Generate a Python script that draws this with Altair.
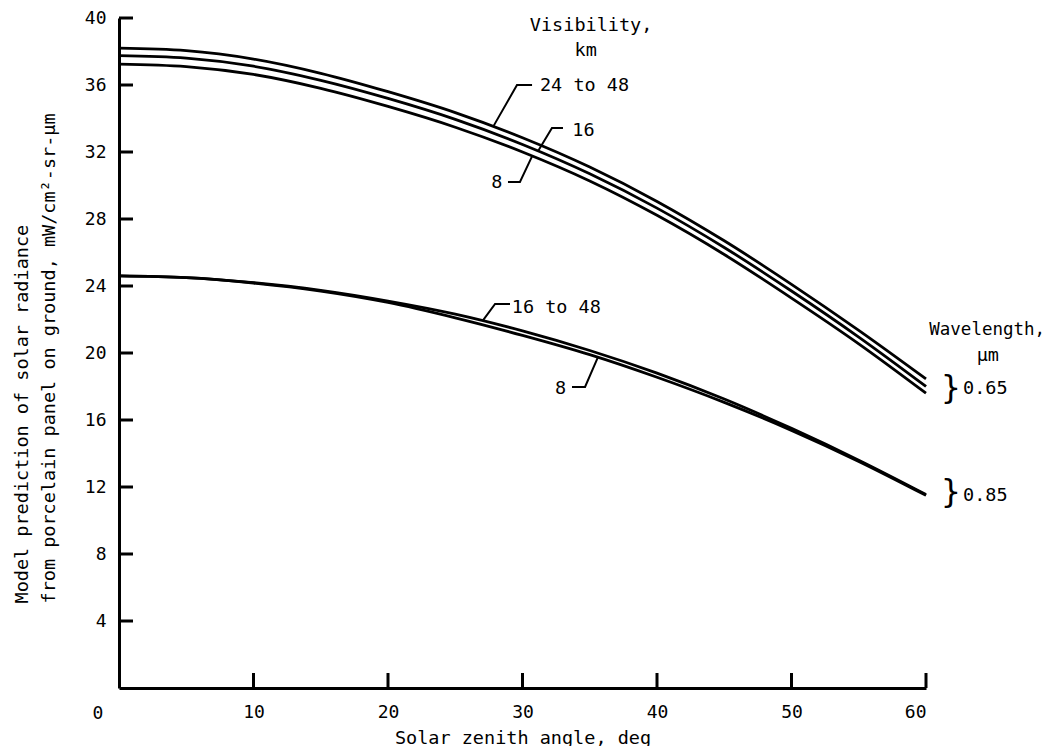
import altair as alt
import pandas as pd

# ---- data ----
angle = [0, 5, 10, 15, 20, 25, 30, 35, 40, 45, 50, 55, 60]
r065_vis24_48 = [38.2, 38.05, 37.55, 36.7, 35.6, 34.35, 32.85, 31.1, 29.05, 26.7, 24.1, 21.35, 18.45]
r065_vis16 = [37.75, 37.6, 37.12, 36.28, 35.2, 33.95, 32.45, 30.7, 28.65, 26.3, 23.7, 20.95, 18.0]
r065_vis8 = [37.25, 37.1, 36.63, 35.8, 34.72, 33.48, 32.0, 30.27, 28.22, 25.88, 23.28, 20.55, 17.6]
r085_vis16_48 = [24.6, 24.5, 24.2, 23.74, 23.1, 22.32, 21.32, 20.15, 18.8, 17.25, 15.5, 13.6, 11.55]
r085_vis8 = [24.6, 24.5, 24.18, 23.7, 23.02, 22.1, 21.05, 19.9, 18.55, 17.05, 15.38, 13.53, 11.5]

series_names = ["0.65 um, 24 to 48 km", "0.65 um, 16 km", "0.65 um, 8 km",
                "0.85 um, 16 to 48 km", "0.85 um, 8 km"]
series_vals = [r065_vis24_48, r065_vis16, r065_vis8, r085_vis16_48, r085_vis8]

x_ticks = [10, 20, 30, 40, 50, 60]
y_ticks = [4, 8, 12, 16, 20, 24, 28, 32, 36, 40]

# annotation texts (anchored in data units)
ann_center_text = ["Visibility,", "km", "\u00b5m"]
ann_center_x = [35.1, 34.7, 64.6]
ann_center_y = [39.6, 38.1, 19.9]

wave_text = ["Wavelength,"]
wave_x = [64.55]
wave_y = [21.4]

ann_left_text = ["24 to 48", "16", "16 to 48", "0.65", "0.85"]
ann_left_x = [31.3, 33.7, 29.2, 62.75, 62.75]
ann_left_y = [36.0, 33.3, 22.75, 17.9, 11.55]

ann_right_text = ["8", "8"]
ann_right_x = [28.5, 33.25]
ann_right_y = [30.2, 17.9]

brace_x = [61.85, 61.85]
brace_y = [17.9, 11.7]

leader_id = ["a", "a", "a", "b", "b", "b", "c", "c", "c", "d", "d", "d", "e", "e", "e"]
leader_ord = [0, 1, 2] * 5
leader_x = [30.71, 29.59, 27.81, 33.01, 32.19, 31.15, 28.92, 29.81, 30.7,
            29.07, 27.96, 27.06, 33.68, 34.65, 35.61]
leader_y = [36.0, 36.0, 33.5, 33.43, 33.43, 32.05, 30.21, 30.21, 31.72,
            22.93, 22.93, 21.95, 17.97, 17.97, 19.75]

# ---- tables ----
rows = []
for name, vals in zip(series_names, series_vals):
    for a, v in zip(angle, vals):
        rows.append({"series": name, "angle": a, "rad": v})
df = pd.DataFrame(rows)

FONT = "DejaVu Sans Mono"
W, H = 807, 670
xs = alt.Scale(domain=[0, 60], nice=False, zero=False)
ys = alt.Scale(domain=[0, 40], nice=False, zero=False)

common_axis = dict(grid=False, ticks=False, tickSize=0, domainColor="black", domainWidth=3,
                   labelFont=FONT, labelFontSize=18, labelColor="black",
                   titleFont=FONT, titleColor="black", titleFontWeight="normal",
                   titleFontSize=18.5)

AX = alt.Axis(values=x_ticks, title="Solar zenith angle, deg", labelPadding=15,
              titleY=49, titleBaseline="middle", **common_axis)
AY = alt.Axis(values=y_ticks, labelPadding=13,
              title=["Model prediction of solar radiance",
                     "from porcelain panel on ground, mW/cm\u00b2-sr-\u00b5m"],
              titleAngle=270, titleAlign="left", titleBaseline="alphabetic",
              titleX=-92, titleY=585, titleLineHeight=27, **common_axis)

def X(field):
    return alt.X(field, scale=xs, axis=AX)

def Y(field):
    return alt.Y(field, scale=ys, axis=AY)

lines = alt.Chart(df).mark_line(color="black", strokeWidth=2.8, interpolate="monotone").encode(
    x=X("angle:Q"), y=Y("rad:Q"), detail="series:N")

ytick = alt.Chart(pd.DataFrame({"rad": y_ticks})).mark_rule(color="black", strokeWidth=3).encode(
    y=Y("rad:Q"), x=alt.value(0), x2=alt.value(14))
xtick = alt.Chart(pd.DataFrame({"angle": x_ticks})).mark_rule(color="black", strokeWidth=3).encode(
    x=X("angle:Q"), y=alt.value(H), y2=alt.value(H - 15))

origin = alt.Chart(pd.DataFrame({"angle": [0], "rad": [0], "t": ["0"]})).mark_text(
    font=FONT, fontSize=18, dx=-21, dy=26, color="black").encode(
    x=X("angle:Q"), y=Y("rad:Q"), text="t:N")

def text_layer(xv, yv, tv, align, size=18.5):
    d = pd.DataFrame({"angle": xv, "rad": yv, "t": tv})
    return alt.Chart(d).mark_text(font=FONT, fontSize=size, align=align,
                                  baseline="middle", color="black").encode(
        x=X("angle:Q"), y=Y("rad:Q"), text="t:N")

t_center = text_layer(ann_center_x, ann_center_y, ann_center_text, "center")
t_wave = text_layer(wave_x, wave_y, wave_text, "center", size=17.5)
t_left = text_layer(ann_left_x, ann_left_y, ann_left_text, "left")
t_right = text_layer(ann_right_x, ann_right_y, ann_right_text, "right")
braces = text_layer(brace_x, brace_y, ["}", "}"], "center", size=32)

leaders = alt.Chart(pd.DataFrame({"id": leader_id, "o": leader_ord,
                                  "angle": leader_x, "rad": leader_y})).mark_line(
    color="black", strokeWidth=2).encode(
    x=X("angle:Q"), y=Y("rad:Q"), detail="id:N", order="o:Q")

chart = alt.layer(lines, ytick, xtick, origin, leaders, t_center, t_wave, t_left, t_right, braces).properties(
    width=W, height=H,
    background="white",
    autosize=alt.AutoSizeParams(type="none"),
    padding={"left": 111, "top": 10, "right": 122, "bottom": 58},
).configure_view(strokeWidth=0)

chart.save("out.html", embed_options={"renderer": "svg", "actions": False})
